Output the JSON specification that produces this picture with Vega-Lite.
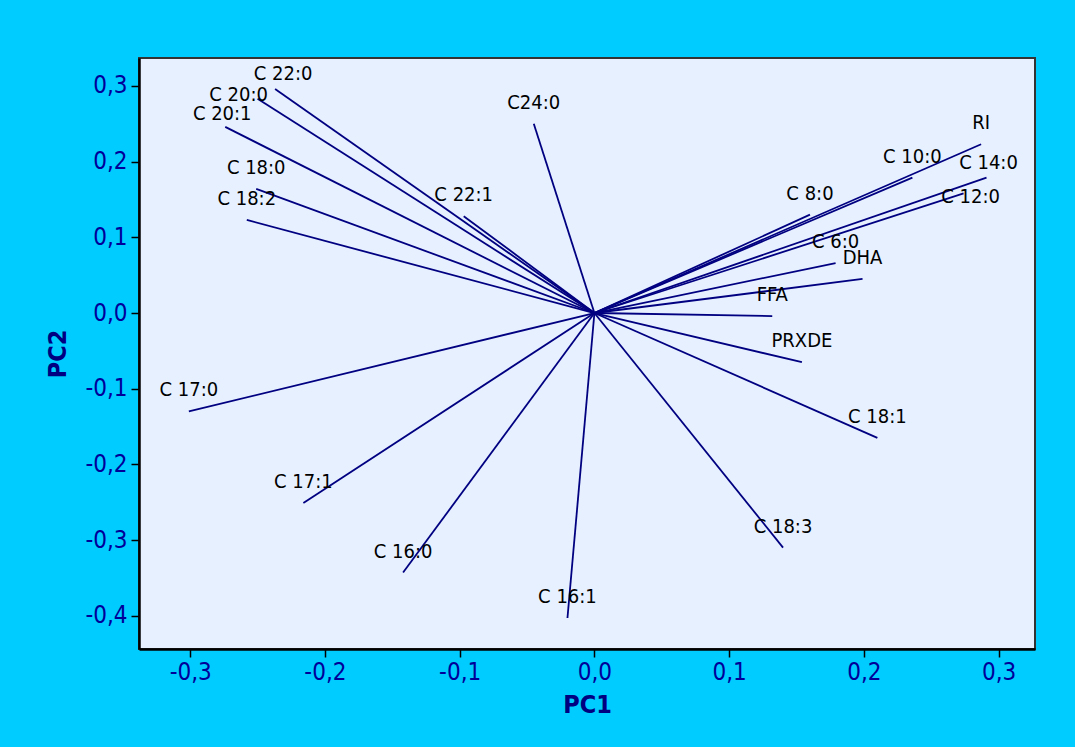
{
  "$schema": "https://vega.github.io/schema/vega-lite/v6.json",
  "autosize": "none",
  "width": 896,
  "height": 591,
  "padding": {"left": 139, "top": 58, "right": 40, "bottom": 98},
  "background": "#00CCFF",
  "config": {
    "locale": {"number": {"decimal": ",", "thousands": ".", "grouping": [3], "currency": ["", ""], "minus": "-"}},
    "view": {"fill": "#E6F0FF", "stroke": "#333333", "strokeWidth": 2},
    "axis": {
      "grid": false,
      "domainColor": "#000000",
      "domainWidth": 2.5,
      "tickColor": "#000000",
      "tickWidth": 1.5,
      "tickSize": 8,
      "labelFont": "DejaVu Sans Condensed",
      "labelFontSize": 24,
      "labelColor": "#000099",
      "titleFont": "DejaVu Sans Condensed",
      "titleFontSize": 25,
      "titleFontWeight": "bold",
      "titleColor": "#000080"
    },
    "text": {"font": "DejaVu Sans Condensed", "fontSize": 20, "color": "#000000", "align": "center", "baseline": "middle"}
  },
  "data": {
    "values": [
      {"variable": "C 22:0", "pc1": -0.237, "pc2": 0.296},
      {"variable": "C 20:0", "pc1": -0.250, "pc2": 0.283},
      {"variable": "C 20:1", "pc1": -0.274, "pc2": 0.246},
      {"variable": "C 18:0", "pc1": -0.251, "pc2": 0.164},
      {"variable": "C 18:2", "pc1": -0.258, "pc2": 0.123},
      {"variable": "C24:0", "pc1": -0.045, "pc2": 0.250},
      {"variable": "C 22:1", "pc1": -0.097, "pc2": 0.128},
      {"variable": "RI", "pc1": 0.287, "pc2": 0.223},
      {"variable": "C 10:0", "pc1": 0.236, "pc2": 0.179},
      {"variable": "C 14:0", "pc1": 0.291, "pc2": 0.179},
      {"variable": "C 12:0", "pc1": 0.274, "pc2": 0.158},
      {"variable": "C 8:0", "pc1": 0.160, "pc2": 0.130},
      {"variable": "C 6:0", "pc1": 0.179, "pc2": 0.066},
      {"variable": "DHA", "pc1": 0.199, "pc2": 0.045},
      {"variable": "FFA", "pc1": 0.132, "pc2": -0.004},
      {"variable": "PRXDE", "pc1": 0.154, "pc2": -0.065},
      {"variable": "C 18:1", "pc1": 0.210, "pc2": -0.165},
      {"variable": "C 18:3", "pc1": 0.140, "pc2": -0.310},
      {"variable": "C 16:1", "pc1": -0.020, "pc2": -0.403},
      {"variable": "C 16:0", "pc1": -0.142, "pc2": -0.343},
      {"variable": "C 17:1", "pc1": -0.216, "pc2": -0.251},
      {"variable": "C 17:0", "pc1": -0.301, "pc2": -0.130}
    ]
  },
  "encoding": {
    "x": {
      "field": "pc1", "type": "quantitative", "title": "PC1",
      "scale": {"domain": [-0.338, 0.327], "nice": false, "zero": false},
      "axis": {"values": [-0.3, -0.2, -0.1, 0, 0.1, 0.2, 0.3], "format": ".1f", "labelPadding": 3, "titlePadding": 8, "labelFlush": false}
    },
    "y": {
      "field": "pc2", "type": "quantitative", "title": "PC2",
      "scale": {"domain": [-0.444, 0.337], "nice": false, "zero": false},
      "axis": {"values": [-0.4, -0.3, -0.2, -0.1, 0, 0.1, 0.2, 0.3], "format": ".1f", "labelPadding": 4, "titlePadding": 14, "labelFlush": false}
    }
  },
  "layer": [
    {
      "mark": {"type": "rule", "color": "#000080", "strokeWidth": 1.8},
      "encoding": {"x2": {"datum": 0}, "y2": {"datum": 0}}
    },
    {
      "transform": [{"filter": "indexof(['C 22:0','C 20:0','C 20:1','C 14:0','C 12:0'], datum.variable) < 0"}],
      "mark": {"type": "text", "dy": -21},
      "encoding": {"text": {"field": "variable"}}
    },
    {
      "transform": [{"filter": "datum.variable == 'C 22:0'"}],
      "mark": {"type": "text", "dx": 8, "dy": -15},
      "encoding": {"text": {"field": "variable"}}
    },
    {
      "transform": [{"filter": "datum.variable == 'C 20:0'"}],
      "mark": {"type": "text", "dx": -19, "dy": -4},
      "encoding": {"text": {"field": "variable"}}
    },
    {
      "transform": [{"filter": "datum.variable == 'C 20:1'"}],
      "mark": {"type": "text", "dx": -3, "dy": -13},
      "encoding": {"text": {"field": "variable"}}
    },
    {
      "transform": [{"filter": "datum.variable == 'C 14:0'"}],
      "mark": {"type": "text", "dx": 2, "dy": -15},
      "encoding": {"text": {"field": "variable"}}
    },
    {
      "transform": [{"filter": "datum.variable == 'C 12:0'"}],
      "mark": {"type": "text", "dx": 7, "dy": 4},
      "encoding": {"text": {"field": "variable"}}
    }
  ]
}
